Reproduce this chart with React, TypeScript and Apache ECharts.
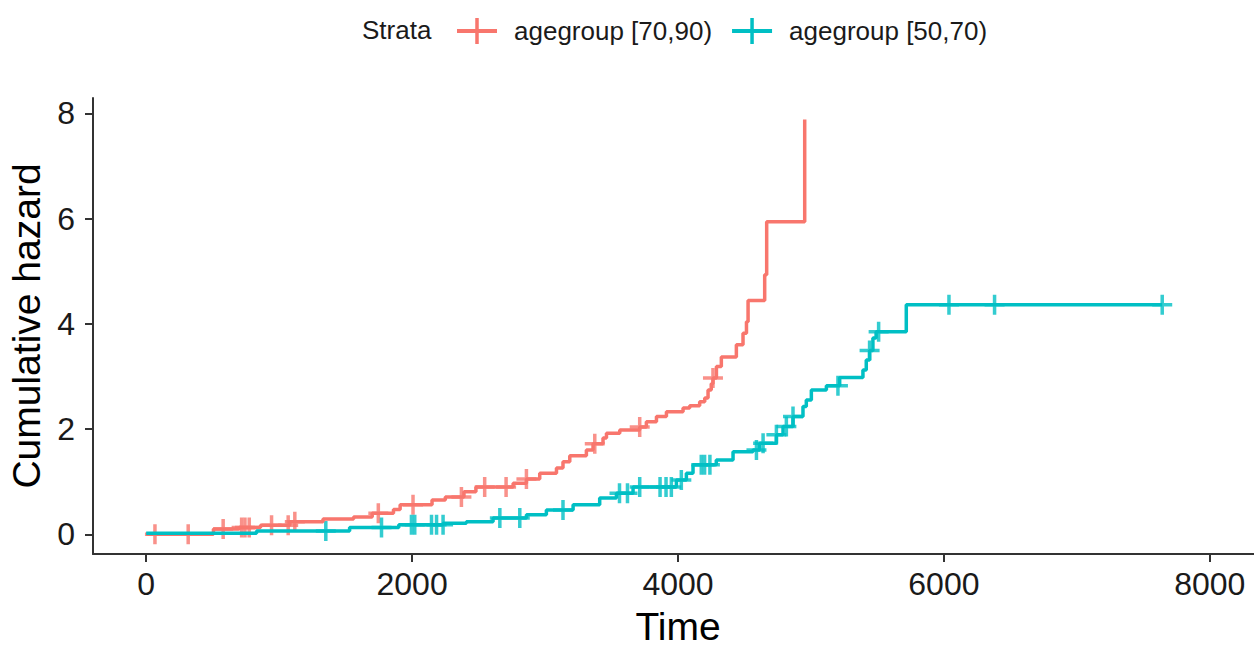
import React, { useEffect, useRef } from "react";
import * as echarts from "echarts";

// ---- data ----
const strataNames = ["agegroup [70,90)", "agegroup [50,70)"];
const strataColors = ["#F8766D", "#00BFC4"];

const redTime = [0, 506, 700, 860, 1080, 1330, 1560, 1700, 1860, 1910, 2150, 2250, 2390, 2480, 2760, 2860, 2960, 3086, 3135, 3186, 3311, 3361, 3436, 3462, 3562, 3712, 3762, 3838, 3913, 4038, 4088, 4163, 4201, 4226, 4250, 4263, 4289, 4326, 4439, 4489, 4515, 4527, 4652, 4667, 4953];
const redHaz = [0, 0.10, 0.13, 0.17, 0.24, 0.29, 0.33, 0.40, 0.47, 0.56, 0.65, 0.71, 0.81, 0.90, 0.97, 1.05, 1.16, 1.26, 1.38, 1.49, 1.60, 1.72, 1.83, 1.92, 1.98, 2.04, 2.14, 2.24, 2.33, 2.40, 2.44, 2.52, 2.59, 2.74, 2.86, 2.97, 3.19, 3.37, 3.60, 3.82, 4.04, 4.44, 4.93, 5.94, 7.88];

const redCensorTime = [66, 316, 579, 718, 743, 775, 943, 1068, 1118, 1746, 2007, 2371, 2546, 2707, 2860, 3374, 3712, 4263];
const redCensorHaz = [0, 0.0, 0.10, 0.13, 0.13, 0.13, 0.17, 0.17, 0.24, 0.40, 0.56, 0.71, 0.90, 0.90, 1.05, 1.72, 2.04, 2.97];

const tealTime = [0, 830, 1530, 1900, 2233, 2408, 2609, 2860, 3010, 3211, 3411, 3537, 3662, 3988, 4063, 4113, 4288, 4414, 4564, 4614, 4740, 4790, 4865, 4940, 4965, 5003, 5116, 5216, 5391, 5416, 5441, 5466, 5490, 5717, 7642];
const tealHaz = [0.02, 0.06, 0.13, 0.18, 0.21, 0.24, 0.31, 0.37, 0.46, 0.56, 0.69, 0.78, 0.90, 1.03, 1.16, 1.32, 1.41, 1.57, 1.60, 1.73, 1.89, 2.05, 2.24, 2.43, 2.55, 2.74, 2.82, 2.98, 3.12, 3.31, 3.49, 3.73, 3.85, 4.36, 4.36];

const tealCensorTime = [1351, 1770, 1995, 2020, 2146, 2184, 2233, 2660, 2810, 3135, 3560, 3620, 3712, 3865, 3910, 3950, 4025, 4175, 4200, 4240, 4590, 4640, 4740, 4815, 4865, 5203, 5441, 5509, 6038, 6381, 7642];
const tealCensorHaz = [0.06, 0.13, 0.18, 0.18, 0.18, 0.18, 0.18, 0.31, 0.31, 0.46, 0.78, 0.78, 0.90, 0.90, 0.90, 0.90, 1.03, 1.32, 1.32, 1.32, 1.60, 1.73, 1.89, 2.05, 2.24, 2.82, 3.49, 3.85, 4.36, 4.36, 4.36];

const xTicks = [0, 2000, 4000, 6000, 8000];
const yTicks = [0, 2, 4, 6, 8];

const FONT = "'Liberation Sans', Arial, sans-serif";
const PLUS = "path://M8.25,0h3.5v20h-3.5z M0,8.25h20v3.5h-20z";
const LEGEND_ICON = "path://M0,11h40v4h-40z M18.25,0h3.5v26h-3.5z";

const zip = (a: number[], b: number[]) => a.map((v, i) => [v, b[i]]);

export default function App() {
  const ref = useRef<HTMLDivElement>(null);
  useEffect(() => {
    if (!ref.current) return;
    const chart = echarts.init(ref.current, undefined, { renderer: "svg" });
    const axisCommon = {
      axisLine: { show: true, onZero: false, lineStyle: { color: "#333333", width: 2 } },
      axisTick: { show: true, length: 8, lineStyle: { color: "#333333", width: 2 } },
      splitLine: { show: false },
    };
    chart.setOption({
      animation: false,
      backgroundColor: "#ffffff",
      textStyle: { fontFamily: FONT },
      graphic: [
        {
          type: "text",
          left: 362,
          top: 17,
          style: { text: "Strata", fontSize: 26, fontFamily: FONT, fill: "#1a1a1a" },
        },
      ],
      legend: {
        left: 452,
        top: 13,
        itemWidth: 40,
        itemHeight: 26,
        itemGap: 20,
        textStyle: { fontSize: 26, fontFamily: FONT, color: "#1a1a1a", padding: [0, 0, 0, 12] },
        data: strataNames.map((n) => ({ name: n, icon: LEGEND_ICON })),
      },
      grid: { left: 93, top: 98, width: 1170, height: 456, containLabel: false, outerBoundsMode: "none" },
      xAxis: {
        type: "value",
        min: -400,
        max: 8400,
        ...axisCommon,
        axisTick: { ...axisCommon.axisTick, customValues: xTicks },
        axisLabel: {
          customValues: xTicks,
          formatter: (v: number) => String(v),
          fontSize: 32,
          color: "#1a1a1a",
          margin: 14,
          fontFamily: FONT,
        },
        name: "Time",
        nameLocation: "middle",
        nameGap: 52,
        nameTextStyle: { fontSize: 39, lineHeight: 40, color: "#000000", fontFamily: FONT },
      },
      yAxis: {
        type: "value",
        min: -0.375,
        max: 8.29,
        ...axisCommon,
        axisTick: { ...axisCommon.axisTick, customValues: yTicks },
        axisLabel: {
          customValues: yTicks,
          formatter: (v: number) => String(v),
          fontSize: 32,
          color: "#1a1a1a",
          margin: 18,
          fontFamily: FONT,
        },
        name: "Cumulative hazard",
        nameLocation: "middle",
        nameGap: 44,
        nameTextStyle: { fontSize: 39, color: "#000000", fontFamily: FONT },
      },
      series: [
        {
          name: strataNames[0],
          type: "line",
          step: "end",
          showSymbol: false,
          color: strataColors[0],
          lineStyle: { width: 3.5, color: strataColors[0] },
          data: zip(redTime, redHaz),
        },
        {
          name: strataNames[1],
          type: "line",
          step: "end",
          showSymbol: false,
          color: strataColors[1],
          lineStyle: { width: 3.5, color: strataColors[1] },
          data: zip(tealTime, tealHaz),
        },
        {
          name: strataNames[0],
          type: "scatter",
          symbol: PLUS,
          symbolSize: 20,
          color: strataColors[0],
          itemStyle: { color: strataColors[0] },
          data: zip(redCensorTime, redCensorHaz),
        },
        {
          name: strataNames[1],
          type: "scatter",
          symbol: PLUS,
          symbolSize: 20,
          color: strataColors[1],
          itemStyle: { color: strataColors[1] },
          data: zip(tealCensorTime, tealCensorHaz),
        },
      ],
    });
    return () => chart.dispose();
  }, []);
  return (
    <div
      ref={ref}
      style={{ position: "fixed", left: 0, top: 0, width: 1254, height: 647, background: "#fff" }}
    />
  );
}
